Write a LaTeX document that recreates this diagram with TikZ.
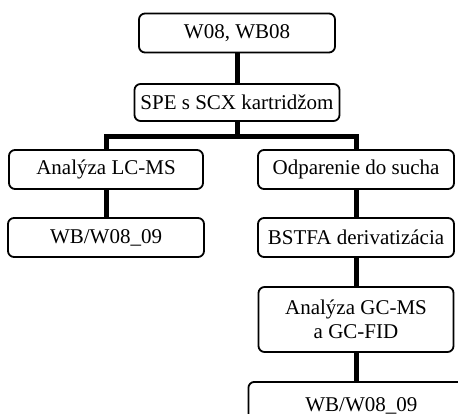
\documentclass[tikz,border=0pt]{standalone}
\usepackage{fontspec}
\setmainfont{Liberation Serif}
\begin{document}
\begin{tikzpicture}[x=1pt,y=-1pt,
  stepbox/.style={draw, line width=1.8pt, rounded corners=6pt, fill=white,
    inner sep=0pt, align=center, font=\fontsize{21}{24.5}\selectfont},
  link/.style={line width=5pt, line join=miter}]
  \useasboundingbox (0,0) rectangle (458,414);
  \begin{scope}
    \clip (0,0) rectangle (458,414);
    % boxes of the workflow
    \node[stepbox, minimum width=196pt, minimum height=39pt] (n1) at (237,33) {W08, WB08};
    \node[stepbox, minimum width=205pt, minimum height=37pt] (n2) at (237,102.5) {SPE s SCX kartridžom};
    \node[stepbox, minimum width=194pt, minimum height=39pt] (n3) at (106,169.5) {Analýza LC-MS};
    \node[stepbox, minimum width=196pt, minimum height=39pt] (n4) at (356,169.5) {Odparenie do sucha};
    \node[stepbox, minimum width=196pt, minimum height=39pt] (n5) at (106,237.5) {WB/W08\_09};
    \node[stepbox, minimum width=196pt, minimum height=39pt] (n6) at (356,237.5) {BSTFA derivatizácia};
    \node[stepbox, minimum width=195pt, minimum height=65pt] (n7) at (356,319.5) {Analýza GC-MS\\a GC-FID};
    \node[stepbox, minimum width=218pt, minimum height=47pt, anchor=north west] (n8) at (247.5,381) {\hspace*{8pt}WB/W08\_09};
    % connectors
    \draw[link] (n1.south) -- (n2.north);
    \draw[link] (n2.south) -- ++(0,15) coordinate (split);
    \draw[link] (split) -| (n3.north);
    \draw[link] (split) -| (n4.north);
    \draw[link] (n3.south) -- (n5.north);
    \draw[link] (n4.south) -- (n6.north);
    \draw[link] (n6.south) -- (n7.north);
    \draw[link] (n7.south) -- (n7.south |- n8.north);
  \end{scope}
\end{tikzpicture}
\end{document}
